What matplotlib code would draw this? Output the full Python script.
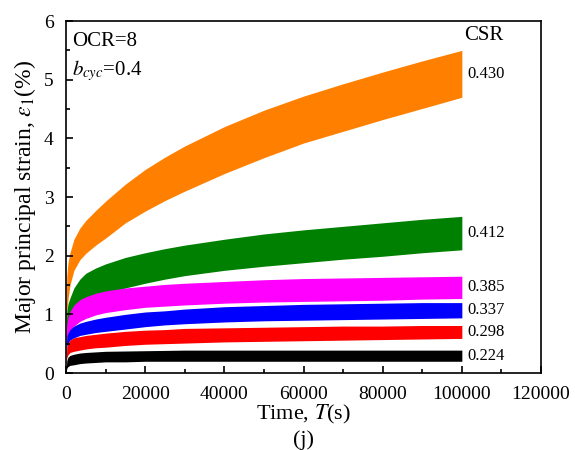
import matplotlib
matplotlib.use("Agg")
import matplotlib.pyplot as plt
import numpy as np
from matplotlib.ticker import MultipleLocator

plt.rcParams['font.family'] = ['Liberation Serif', 'DejaVu Serif']
plt.rcParams['mathtext.fontset'] = 'stix'

# time points (s)
T = [0, 200, 500, 1000, 2000, 3500, 5000, 7500, 10000, 15000, 20000, 25000,
     30000, 40000, 50000, 60000, 70000, 80000, 90000, 100000]

csr = ["0.430", "0.412", "0.385", "0.337", "0.298", "0.224"]
colors = ["#FF8000", "#008000", "#FF00FF", "#0000FF", "#FF0000", "#000000"]

# upper / lower envelope of the cyclic strain (%)
upper_430 = [1.00, 1.65, 1.88, 2.05, 2.28, 2.47, 2.60, 2.77, 2.93, 3.22, 3.47, 3.68, 3.87,
             4.20, 4.48, 4.72, 4.93, 5.13, 5.32, 5.50]
lower_430 = [0.85, 1.05, 1.25, 1.50, 1.75, 1.93, 2.04, 2.18, 2.30, 2.56, 2.76, 2.94, 3.10,
             3.40, 3.67, 3.92, 4.12, 4.32, 4.51, 4.70]
upper_412 = [0.60, 1.05, 1.18, 1.28, 1.45, 1.60, 1.70, 1.79, 1.86, 1.97, 2.05, 2.12, 2.18,
             2.28, 2.37, 2.44, 2.50, 2.56, 2.62, 2.67]
lower_412 = [0.50, 0.75, 0.85, 0.95, 1.04, 1.12, 1.20, 1.28, 1.34, 1.45, 1.53, 1.60, 1.66,
             1.75, 1.82, 1.88, 1.94, 1.99, 2.05, 2.10]
upper_385 = [0.45, 0.82, 0.95, 1.05, 1.16, 1.25, 1.30, 1.36, 1.40, 1.45, 1.48, 1.51, 1.53,
             1.56, 1.59, 1.61, 1.62, 1.63, 1.64, 1.65]
lower_385 = [0.40, 0.58, 0.66, 0.72, 0.80, 0.88, 0.93, 0.99, 1.03, 1.08, 1.12, 1.14, 1.16,
             1.19, 1.21, 1.22, 1.23, 1.24, 1.26, 1.27]
upper_337 = [0.35, 0.62, 0.68, 0.74, 0.80, 0.85, 0.88, 0.92, 0.95, 1.00, 1.04, 1.06, 1.09,
             1.13, 1.15, 1.17, 1.18, 1.19, 1.20, 1.20]
lower_337 = [0.30, 0.46, 0.51, 0.56, 0.60, 0.64, 0.66, 0.69, 0.71, 0.75, 0.79, 0.82, 0.84,
             0.87, 0.89, 0.90, 0.91, 0.92, 0.93, 0.94]
upper_298 = [0.15, 0.45, 0.51, 0.56, 0.60, 0.62, 0.64, 0.66, 0.68, 0.71, 0.73, 0.74, 0.76,
             0.77, 0.78, 0.79, 0.80, 0.80, 0.81, 0.81]
lower_298 = [0.10, 0.26, 0.31, 0.35, 0.37, 0.39, 0.41, 0.43, 0.44, 0.47, 0.49, 0.50, 0.51,
             0.53, 0.54, 0.55, 0.56, 0.57, 0.58, 0.59]
upper_224 = [0.02, 0.21, 0.27, 0.30, 0.32, 0.34, 0.35, 0.36, 0.37, 0.375, 0.38, 0.385, 0.39,
             0.39, 0.39, 0.39, 0.39, 0.39, 0.39, 0.39]
lower_224 = [0.00, 0.08, 0.11, 0.13, 0.14, 0.16, 0.17, 0.18, 0.19, 0.19, 0.20, 0.20, 0.20,
             0.20, 0.20, 0.20, 0.20, 0.20, 0.20, 0.20]

uppers = [upper_430, upper_412, upper_385, upper_337, upper_298, upper_224]
lowers = [lower_430, lower_412, lower_385, lower_337, lower_298, lower_224]

fig = plt.figure(figsize=(5.75, 4.5), dpi=100)
ax = fig.add_axes([0.1148, 0.1711, 0.8261, 0.7822])

for up, lo, c, lab in zip(uppers, lowers, colors, csr):
    ax.fill_between(T, lo, up, color=c, linewidth=0)
    ax.text(101500, (up[-1] + lo[-1]) / 2, lab, fontsize=12,
            ha='left', va='center')

ax.set_xlim(0, 120000)
ax.set_ylim(0, 6)
ax.xaxis.set_major_locator(MultipleLocator(20000))
ax.xaxis.set_minor_locator(MultipleLocator(10000))
ax.yaxis.set_major_locator(MultipleLocator(1))
ax.yaxis.set_minor_locator(MultipleLocator(0.5))
ax.tick_params(which='both', direction='in', labelsize=14, width=1.2, pad=9)
ax.tick_params(which='major', length=5)
ax.tick_params(which='minor', length=3)
for s in ax.spines.values():
    s.set_linewidth(1.2)

ax.set_xlabel(r'Time, $\mathit{T}$(s)', fontsize=16, labelpad=0)
ax.set_ylabel(r'Major principal strain, $\varepsilon_1$(%)', fontsize=17, labelpad=4)
fig.text(0.527, 0.022, '(j)', fontsize=16, ha='center', va='center')

ax.text(0.012, 0.97, 'OCR=8', transform=ax.transAxes, fontsize=15, va='top')
ax.text(0.012, 0.895, r'$\mathit{b}_{\mathit{cyc}}$=0.4', transform=ax.transAxes, fontsize=15, va='top')
ax.text(100500, 5.75, 'CSR', fontsize=15, ha='left', va='center')

fig.savefig('out.png', dpi=100)
